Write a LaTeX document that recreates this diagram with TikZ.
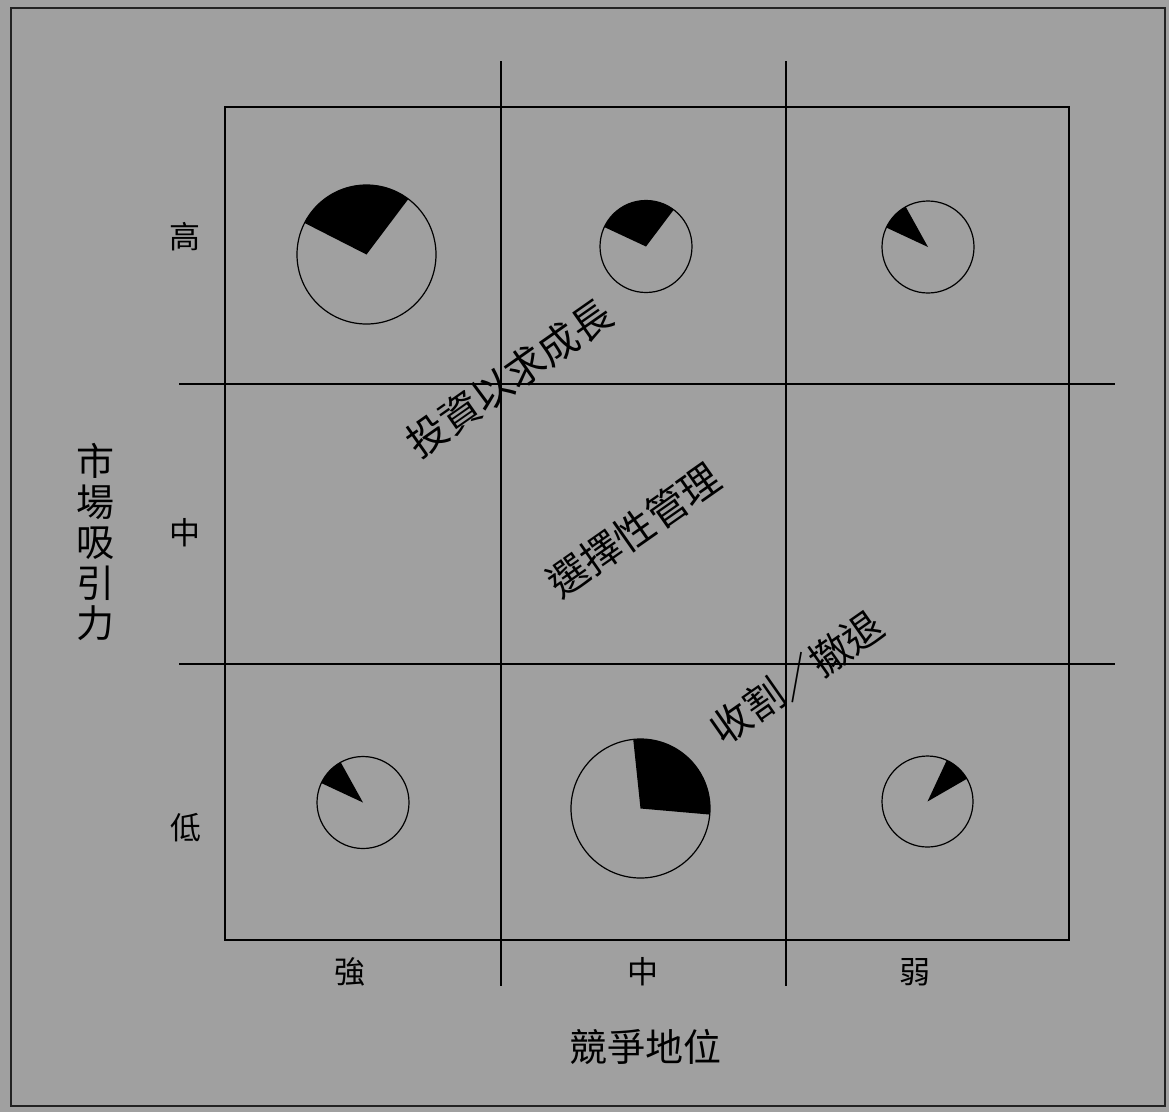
\documentclass[tikz,border=0pt]{standalone}
\usepackage{fontspec}
\newfontfamily\cjk{Noto Sans CJK TC}
\definecolor{bggray}{HTML}{A0A0A0}
\definecolor{framecol}{HTML}{222222}
\tikzset{
  gridline/.style={line width=1.2pt, draw=black},
  pieoutline/.style={line width=1.2pt, draw=black},
  slice/.style={fill=black},
  axislabel/.style={font=\cjk\fontsize{31}{33}\selectfont, inner sep=0pt},
  titlelabel/.style={font=\cjk\fontsize{38}{40}\selectfont, inner sep=0pt},
  diaglabel/.style={font=\cjk\fontsize{40}{42}\selectfont, inner sep=0pt, rotate=35},
}
\newcommand{\mypie}[5]{%
  \draw[pieoutline] (#1,#2) circle[radius=#3];
  \fill[slice] (#1,#2) -- ++(-#4:#3) arc[start angle=-#4, end angle=-#5, radius=#3] -- cycle;
}
\begin{document}
\begin{tikzpicture}[x=1pt,y=-1pt]
\fill[bggray] (0,0) rectangle (1169,1112);
\useasboundingbox (0,0) rectangle (1169,1112);
\draw[framecol, line width=2pt] (10.5,7.5) rectangle (1165,1106);
% inner box
\draw[gridline] (225,107) rectangle (1069,940);
% grid lines
\draw[gridline] (501,61) -- (501,986);
\draw[gridline] (786,61) -- (786,986);
\draw[gridline] (179,384) -- (1115,384);
\draw[gridline] (179,664) -- (1115,664);
% pies
\mypie{366.5}{254.5}{69.5}{53}{153}
\mypie{646}{246.5}{46}{53}{155}
\mypie{928}{247}{46}{119}{155}
\mypie{363}{802.5}{46}{119}{155}
\mypie{640.5}{808.5}{69.5}{-5}{96}
\mypie{927.5}{801.5}{45.5}{30}{65}
% row labels
\node[axislabel] (hi) at (185,237) {高};
\node[axislabel] (mid) at (185,533) {中};
\node[axislabel] (lo) at (186,828) {低};
% column labels
\node[axislabel] (strong) at (350,972) {強};
\node[axislabel] (medium) at (643,972) {中};
\node[axislabel] (weak) at (915,972) {弱};
% axis titles
\node[titlelabel] (xtitle) at (645,1047) {競爭地位};
\node[titlelabel, align=center, font=\cjk\fontsize{38}{40.5}\selectfont] (ytitle) at (95,542) {市\\場\\吸\\引\\力};
% diagonal labels
\node[diaglabel] (invest) at (509,378) {投資以求成長};
\node[diaglabel] (select) at (634,530) {選擇性管理};
\node[diaglabel] (harvest) at (797,677) {收割／撤退};
\end{tikzpicture}
\end{document}
